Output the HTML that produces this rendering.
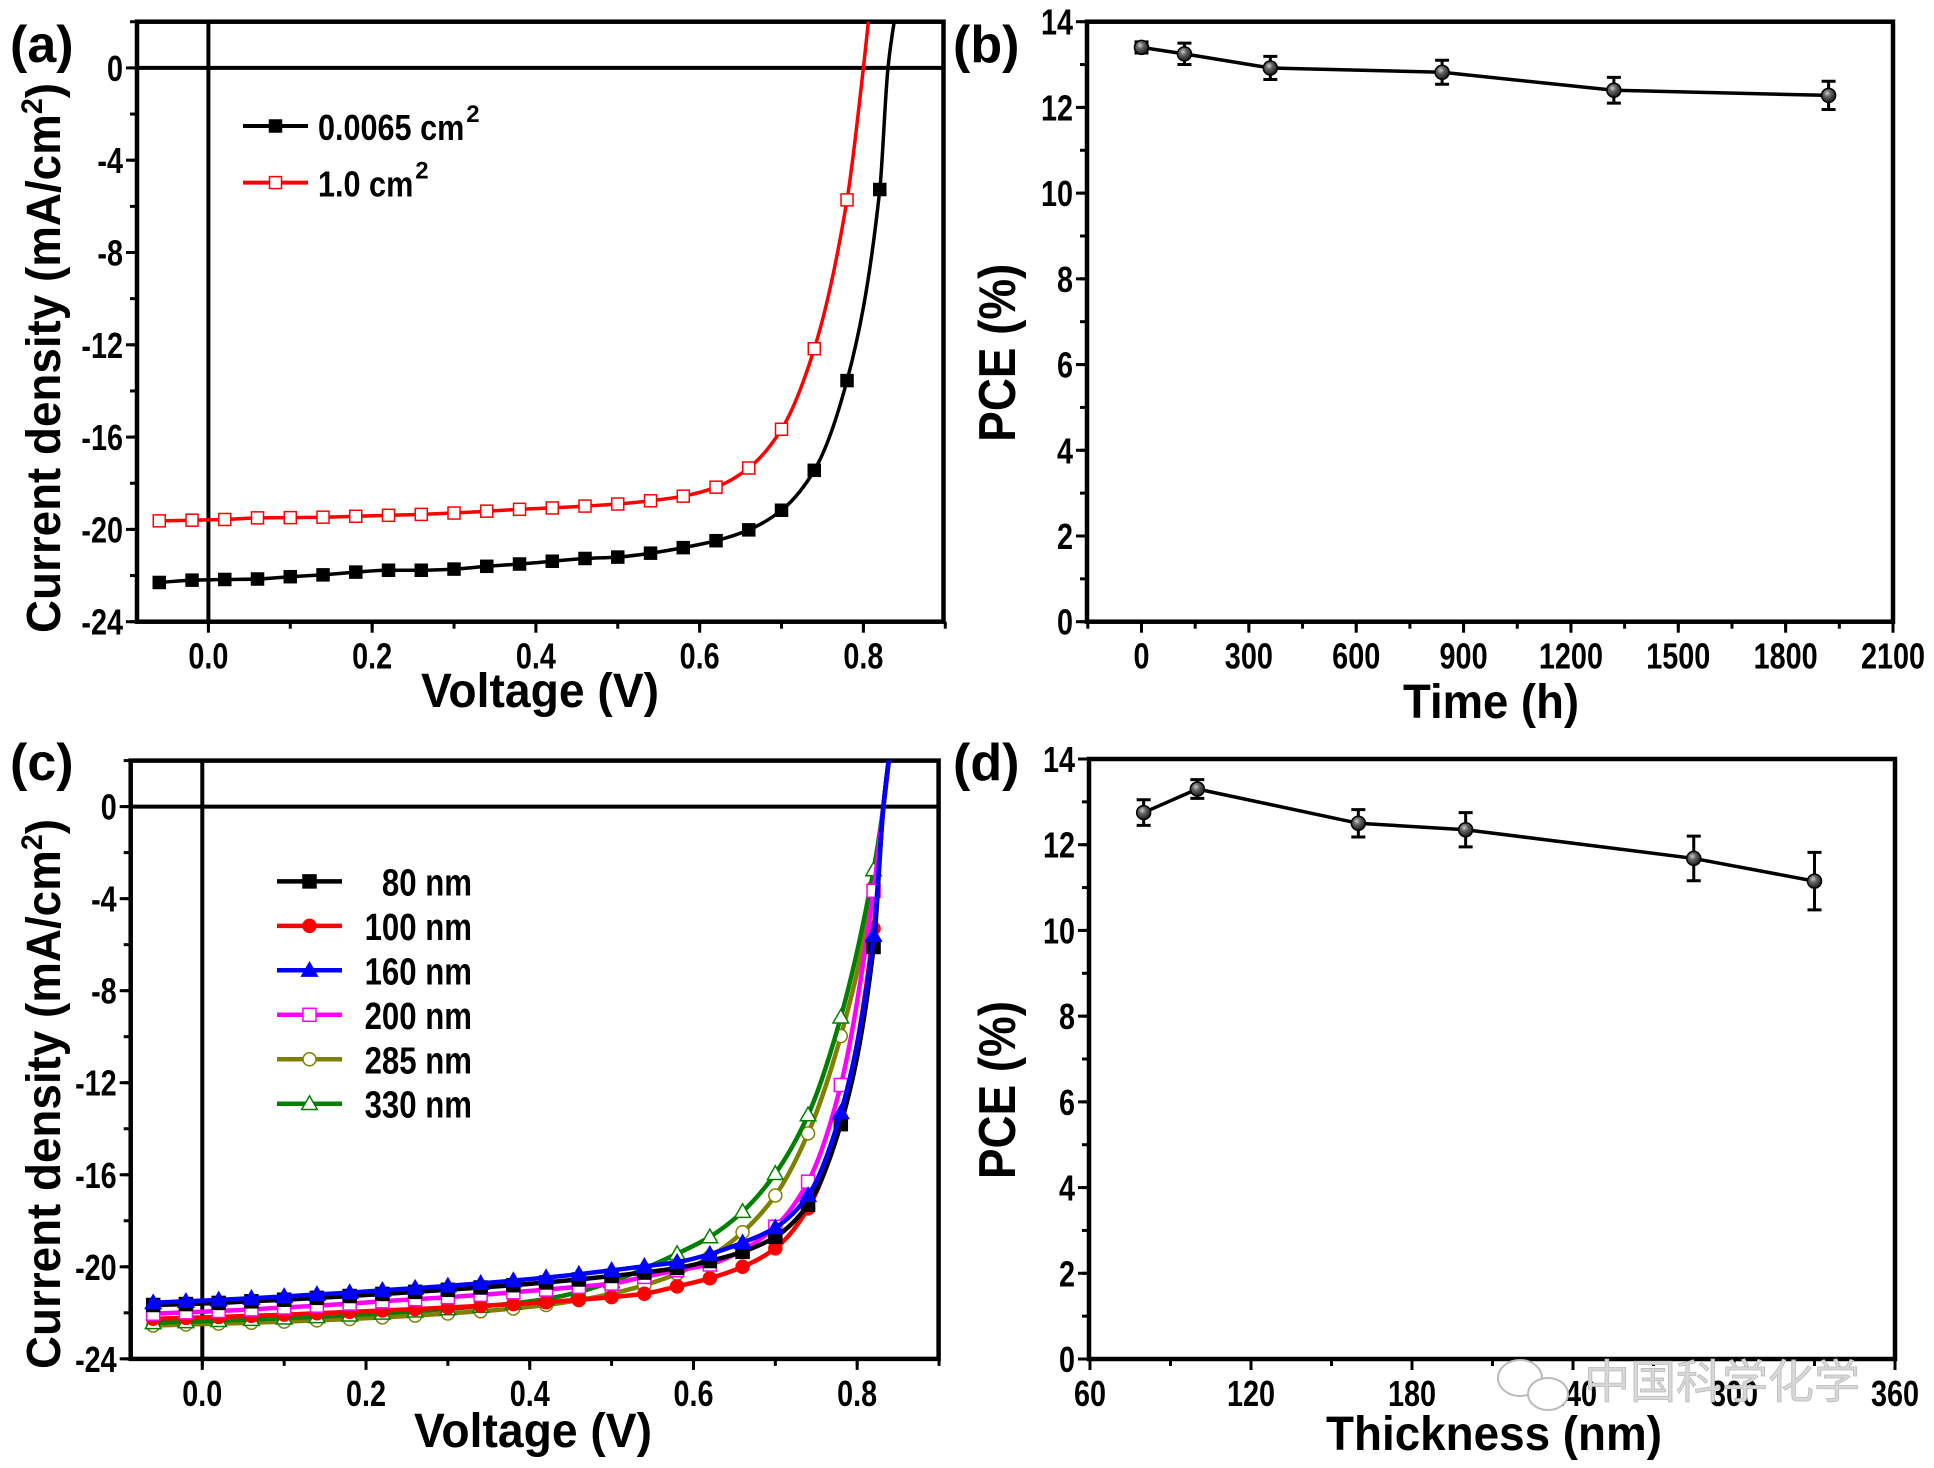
<!DOCTYPE html>
<html><head><meta charset="utf-8">
<style>
html,body{margin:0;padding:0;background:#fff;}
svg{display:block;font-family:"Liberation Sans","Noto Sans CJK SC",sans-serif;font-weight:bold;}
</style></head>
<body>
<svg id="fig" width="1934" height="1468" viewBox="0 0 1934 1468" xmlns="http://www.w3.org/2000/svg">
<defs>
<radialGradient id="ballgrad" cx="0.4" cy="0.35" r="0.7"><stop offset="0" stop-color="#ccc"/><stop offset="0.35" stop-color="#666"/><stop offset="1" stop-color="#111"/></radialGradient>
</defs>
</svg>
<script>
// ---------- Panel (a) data ----------
const aVoltage = [-0.06,-0.02,0.02,0.06,0.10,0.14,0.18,0.22,0.26,0.30,0.34,0.38,0.42,0.46,0.50,0.54,0.58,0.62,0.66,0.70,0.74,0.78,0.82];
const aSmallJ = [-22.3,-22.2,-22.17,-22.15,-22.05,-21.97,-21.85,-21.77,-21.77,-21.72,-21.6,-21.5,-21.38,-21.26,-21.2,-21.03,-20.79,-20.49,-20.02,-19.17,-17.44,-13.55,-5.27];
const aLargeJ = [-19.63,-19.6,-19.57,-19.5,-19.49,-19.47,-19.43,-19.39,-19.35,-19.29,-19.21,-19.13,-19.07,-18.99,-18.9,-18.76,-18.56,-18.17,-17.34,-15.66,-12.17,-5.72];
const aSmallTailV = [0.830,0.842];
const aSmallTailJ = [0,3];
const aLargeTailV = [0.800,0.809];
const aLargeTailJ = [0,3];
const aLegend = ["0.0065 cm", "1.0 cm"];
const jTicks = [0,-4,-8,-12,-16,-20,-24];
const vTicks = [0.0,0.2,0.4,0.6,0.8];

// ---------- Panel (b) data ----------
const bTime = [0,120,360,840,1320,1920];
const bPCE = [13.4,13.25,12.92,12.82,12.4,12.28];
const bErr = [0.13,0.25,0.27,0.28,0.3,0.33];
const bXTicks = [0,300,600,900,1200,1500,1800,2100];
const pceTicks = [0,2,4,6,8,10,12,14];

// ---------- Panel (c) data ----------
const cVoltage = [-0.06,-0.02,0.02,0.06,0.10,0.14,0.18,0.22,0.26,0.30,0.34,0.38,0.42,0.46,0.50,0.54,0.58,0.62,0.66,0.70,0.74,0.78,0.82];
const c80 = [-21.66,-21.62,-21.57,-21.5,-21.43,-21.35,-21.27,-21.18,-21.09,-21.0,-20.9,-20.8,-20.68,-20.55,-20.4,-20.25,-20.05,-19.75,-19.35,-18.7,-17.3,-13.8,-6.1];
const c100 = [-22.26,-22.22,-22.18,-22.13,-22.08,-22.02,-21.96,-21.9,-21.84,-21.77,-21.7,-21.62,-21.54,-21.43,-21.32,-21.17,-20.85,-20.5,-20.0,-19.2,-17.46,-13.6,-5.3];
const c160 = [-21.56,-21.5,-21.44,-21.37,-21.29,-21.2,-21.12,-21.02,-20.93,-20.83,-20.72,-20.6,-20.47,-20.32,-20.15,-19.98,-19.8,-19.45,-18.95,-18.3,-16.9,-13.3,-5.6];
const c200 = [-22.04,-21.98,-21.92,-21.85,-21.77,-21.69,-21.6,-21.5,-21.41,-21.32,-21.22,-21.11,-20.99,-20.87,-20.73,-20.44,-20.15,-19.9,-19.28,-18.26,-16.3,-12.1,-3.66];
const c285 = [-22.55,-22.51,-22.47,-22.43,-22.38,-22.33,-22.27,-22.2,-22.12,-22.03,-21.93,-21.81,-21.66,-21.45,-21.17,-20.8,-20.3,-19.57,-18.5,-16.9,-14.2,-9.97,-3.5];
const c330 = [-22.43,-22.39,-22.34,-22.29,-22.23,-22.17,-22.1,-22.02,-21.93,-21.83,-21.72,-21.59,-21.4,-21.1,-20.65,-20.08,-19.43,-18.7,-17.6,-15.95,-13.4,-9.15,-2.75];
const cTailV = [0.832,0.842];
const cTailJ = [0,3];
const cLegend = ["80 nm","100 nm","160 nm","200 nm","285 nm","330 nm"];

// ---------- Panel (d) data ----------
const dThick = [80,100,160,200,285,330];
const dPCE = [12.75,13.3,12.5,12.35,11.68,11.15];
const dErr = [0.3,0.22,0.32,0.4,0.52,0.67];
const dXTicks = [60,120,180,240,300,360];

const NS = "http://www.w3.org/2000/svg";
const svg = document.getElementById('fig');
function mk(tag, attrs, parent){
  const e = document.createElementNS(NS, tag);
  for (const k in attrs) e.setAttribute(k, attrs[k]);
  (parent||svg).appendChild(e);
  return e;
}
// monotone cubic (Fritsch-Carlson) in x
function smoothPath(pts){
  const n=pts.length, dx=[], m=[], t=new Array(n);
  for(let i=0;i<n-1;i++){dx.push(pts[i+1][0]-pts[i][0]); m.push((pts[i+1][1]-pts[i][1])/dx[i]);}
  t[0]=m[0]; t[n-1]=m[n-2];
  for(let i=1;i<n-1;i++){
    if(m[i-1]*m[i]<=0) t[i]=0;
    else { const w1=2*dx[i]+dx[i-1], w2=dx[i]+2*dx[i-1]; t[i]=(w1+w2)/(w1/m[i-1]+w2/m[i]); }
  }
  let d="M"+pts[0][0].toFixed(1)+","+pts[0][1].toFixed(1);
  for(let i=0;i<n-1;i++){
    const h=dx[i]/3;
    d+=" C"+(pts[i][0]+h).toFixed(1)+","+(pts[i][1]+t[i]*h).toFixed(1)+" "+(pts[i+1][0]-h).toFixed(1)+","+(pts[i+1][1]-t[i+1]*h).toFixed(1)+" "+pts[i+1][0].toFixed(1)+","+pts[i+1][1].toFixed(1);
  }
  return d;
}
function marker(g, shape, x, y, color, filled, s){
  let e;
  const fill = filled ? color : "#fff";
  if (shape==="square") e = mk('rect',{x:x-s/2,y:y-s/2,width:s,height:s,fill:fill,stroke:color,'stroke-width':1.5},g);
  else if (shape==="circle") e = mk('circle',{cx:x,cy:y,r:s/2,fill:fill,stroke:color,'stroke-width':1.5},g);
  else e = mk('polygon',{points:(x)+","+(y-s*0.6)+" "+(x-s*0.6)+","+(y+s*0.45)+" "+(x+s*0.6)+","+(y+s*0.45),fill:fill,stroke:color,'stroke-width':1.5},g);
  return e;
}
function label(txt,x,y,size,anchor,parent,len){
  const t = mk('text',{x:x,y:y,'font-size':size,'text-anchor':anchor||'middle',fill:'#000'},parent);
  if(len){t.setAttribute('textLength',len);t.setAttribute('lengthAdjust','spacingAndGlyphs');}
  t.textContent = txt;
  return t;
}
function condense(t,f){ const w=t.getComputedTextLength(); t.setAttribute('textLength',(w*f).toFixed(1)); t.setAttribute('lengthAdjust','spacingAndGlyphs'); }

function axesFrame(name, L,T,R,B, xs, ys, xTicks, xMinor, yTicks, yMinor, xFmt){
  const g = mk('g',{});
  
  
  const fr = mk('rect',{x:L,y:T,width:R-L,height:B-T,fill:'none',stroke:'#000','stroke-width':4.5},g);
  
  
  xMinor.forEach(v=>{ const x=xs(v); mk('line',{x1:x,y1:B,x2:x,y2:B+7,stroke:'#000','stroke-width':3},g); });
  xTicks.forEach(v=>{ const x=xs(v); mk('line',{x1:x,y1:B,x2:x,y2:B+11,stroke:'#000','stroke-width':3},g);
    const t = label(xFmt(v),x,B+47,36,'middle',g);
    
    
    condense(t,0.8);
  });
  yMinor.forEach(v=>{ const y=ys(v); mk('line',{x1:L-7,y1:y,x2:L,y2:y,stroke:'#000','stroke-width':3},g); });
  yTicks.forEach(v=>{ const y=ys(v); mk('line',{x1:L-11,y1:y,x2:L,y2:y,stroke:'#000','stroke-width':3},g);
    const t = label(String(v),L-14,y+13,36,'end',g);
    
    
    condense(t,0.8);
  });
  return g;
}
function range(a,b,s){const r=[];for(let v=a;v<=b+1e-9;v+=s)r.push(+v.toFixed(4));return r;}

// ===== Panel a =====
(function(){
  const L=137,T=21.7,R=943.5,B=621.7;
  const xs=v=>208.4+v*818.75, ys=j=>67.9-j*23.075;
  axesFrame('panel-a',L,T,R,B,xs,ys,vTicks,range(-0.0,0.9,0.1),jTicks,range(-24,2,2),v=>v.toFixed(1));
  mk('line',{x1:L,y1:ys(0),x2:R,y2:ys(0),stroke:'#000','stroke-width':4});
  mk('line',{x1:xs(0),y1:T,x2:xs(0),y2:B,stroke:'#000','stroke-width':4});
  mk('clipPath',{id:'clipA'}); mk('rect',{x:L,y:T,width:R-L,height:B-T},svg.lastChild);
  const series=[[aSmallJ,aSmallTailV,aSmallTailJ,'#000',true,'series-0.0065cm2'],[aLargeJ,aLargeTailV,aLargeTailJ,'#ff0000',false,'series-1.0cm2']];
  series.forEach(s=>{
    const g = mk('g',{'clip-path':'url(#clipA)'});
    
    
    const pts = s[0].map((j,i)=>[xs(aVoltage[i]),ys(j)]);
    s[1].forEach((v,i)=>pts.push([xs(v),ys(s[2][i])]));
    mk('path',{d:smoothPath(pts),fill:'none',stroke:s[3],'stroke-width':3.5},g);
    s[0].forEach((j,i)=>{ const m=marker(g,'square',xs(aVoltage[i]),ys(j),s[3],s[4],12);
      
       });
  });
  const legY=[126,182.6], legC=['#000','#ff0000'], legF=[true,false];
  aLegend.forEach((t,i)=>{
    const g = mk('g',{});
    
    
    mk('line',{x1:243,y1:legY[i],x2:308,y2:legY[i],stroke:legC[i],'stroke-width':4},g);
    marker(g,'square',275.5,legY[i],legC[i],legF[i],12);
    const tx = label(t,318,legY[i]+14,36,'start',g);
    condense(tx,0.85);
    const sx = tx.getBBox().x+tx.getBBox().width+2;
    const sup = label('2',sx,legY[i]-4,24,'start',g);
  });
  const xt=label('Voltage (V)',540,707,48,'middle',null,238);
   
  const yt=mk('text',{transform:'translate(60,358) rotate(-90)','font-size':48,'text-anchor':'middle'});
   
  yt.setAttribute('textLength',550); yt.setAttribute('lengthAdjust','spacingAndGlyphs');
  yt.innerHTML='Current density (mA/cm<tspan dy="-18" font-size="30">2</tspan><tspan dy="18">)</tspan>';
  const pl=label('(a)',10,62,52,'start');  
})();

// ===== Error-bar panels (b, d) =====
function pcePanel(id, L,T,R,B, xs, xVals, yVals, eVals, xTicks, xMinor, xTitle, xTitleX, xTitleY, xTitleLen, plX, plY){
  const ys=p=>B-p*(B-T)/14;
  axesFrame('panel-'+id,L,T,R,B,xs,ys,xTicks,xMinor,pceTicks,range(0,14,1),v=>String(v));
  const g = mk('g',{});
  
  
  const pts = xVals.map((x,i)=>xs(x)+","+ys(yVals[i])).join(' ');
  mk('polyline',{points:pts,fill:'none',stroke:'#000','stroke-width':3.5},g);
  xVals.forEach((x,i)=>{
    const px=xs(x), y1=ys(yVals[i]+eVals[i]), y2=ys(yVals[i]-eVals[i]);
    const eb = mk('path',{d:`M${px},${y1}V${y2}M${px-7},${y1}H${px+7}M${px-7},${y2}H${px+7}`,stroke:'#000','stroke-width':3,fill:'none'},g);
    
    
    const c = mk('circle',{cx:px,cy:ys(yVals[i]),r:7,fill:'url(#ballgrad)',stroke:'#000','stroke-width':1.5},g);
    
    
  });
  const xt=label(xTitle,xTitleX,xTitleY,48,'middle',null,xTitleLen);
   
  const yt=mk('text',{transform:`translate(1015,${B-269}) rotate(-90)`,'font-size':52,'text-anchor':'middle',textLength:178,lengthAdjust:'spacingAndGlyphs'});
   
  yt.textContent='PCE (%)';
  const pl=label('('+id+')',plX,plY,52,'start');  
}
pcePanel('b',1087,21.7,1893,621.7,t=>1141.5+t*0.35786,bTime,bPCE,bErr,bXTicks,range(-150,2100,150),'Time (h)',1491,718,176,953,62);
pcePanel('d',1089,759,1895,1359,t=>1090+(t-60)*2.6833,dThick,dPCE,dErr,dXTicks,range(60,360,30),'Thickness (nm)',1494,1450,336,953,780);

// ===== Panel c =====
(function(){
  const L=130.7,T=760.6,R=938.6,B=1358.9;
  const xs=v=>202.3+v*818.6, ys=j=>806.6-j*23.01;
  axesFrame('panel-c',L,T,R,B,xs,ys,vTicks,range(-0.0,0.9,0.1),jTicks,range(-24,2,2),v=>v.toFixed(1));
  mk('line',{x1:L,y1:ys(0),x2:R,y2:ys(0),stroke:'#000','stroke-width':4});
  mk('line',{x1:xs(0),y1:T,x2:xs(0),y2:B,stroke:'#000','stroke-width':4});
  mk('clipPath',{id:'clipC'}); mk('rect',{x:L,y:T,width:R-L,height:B-T},svg.lastChild);
  const series=[
    [c285,'#808000','circle',false,'series-285nm'],
    [c330,'#008000','triangle',false,'series-330nm'],
    [c100,'#ff0000','circle',true,'series-100nm'],
    [c200,'#ff00ff','square',false,'series-200nm'],
    [c80,'#000000','square',true,'series-80nm'],
    [c160,'#0000ff','triangle',true,'series-160nm']];
  series.forEach(s=>{
    const g = mk('g',{'clip-path':'url(#clipC)'});
    
    
    const pts = s[0].map((j,i)=>[xs(cVoltage[i]),ys(j)]);
    cTailV.forEach((v,i)=>pts.push([xs(v),ys(cTailJ[i])]));
    mk('path',{d:smoothPath(pts),fill:'none',stroke:s[1],'stroke-width':4.5},g);
    s[0].forEach((j,i)=>{ const m=marker(g,s[2],xs(cVoltage[i]),ys(j),s[1],s[3],13);
      
       });
  });
  const legY=[881.4,925.9,970.3,1014.8,1059.3,1103.7];
  const legC=['#000','#ff0000','#0000ff','#ff00ff','#808000','#008000'];
  const legS=['square','circle','triangle','square','circle','triangle'];
  const legF=[true,true,true,false,false,false];
  cLegend.forEach((t,i)=>{
    const g = mk('g',{});
    
    
    mk('line',{x1:277,y1:legY[i],x2:342,y2:legY[i],stroke:legC[i],'stroke-width':4.5},g);
    marker(g,legS[i],309.5,legY[i],legC[i],legF[i],13);
    const tx = label(t,472,legY[i]+14,38,'end',g);
    condense(tx,0.82);
  });
  const xt=label('Voltage (V)',533,1447,48,'middle',null,238);
   
  const yt=mk('text',{transform:'translate(60,1094) rotate(-90)','font-size':48,'text-anchor':'middle'});
   
  yt.setAttribute('textLength',550); yt.setAttribute('lengthAdjust','spacingAndGlyphs');
  yt.innerHTML='Current density (mA/cm<tspan dy="-18" font-size="30">2</tspan><tspan dy="18">)</tspan>';
  const pl=label('(c)',10,780,52,'start');  
})();

// watermark
const wi = mk('g',{});


mk('ellipse',{cx:1520,cy:1378,rx:22,ry:18,fill:'#fff',stroke:'#bbb','stroke-width':2},wi);
mk('ellipse',{cx:1548,cy:1394,rx:20,ry:16,fill:'#fff',stroke:'#bbb','stroke-width':2},wi);
const wm = mk('text',{x:1584,y:1398,'font-size':46,'font-weight':'normal',fill:'#d8d8d8',stroke:'#bbb','stroke-width':0.8,'font-family':'"Noto Sans CJK SC",sans-serif'});


wm.textContent='中国科学化学';
</script>
</body></html>
